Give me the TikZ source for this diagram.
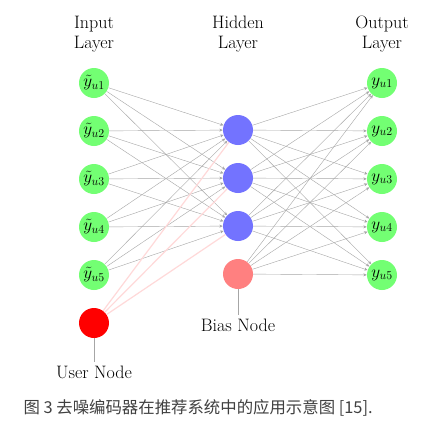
\documentclass[tikz,border=0pt]{standalone}
\usepackage{fontspec}
\newfontfamily\cjk{Noto Sans CJK SC}
\usetikzlibrary{arrows.meta}
\begin{document}
\begin{tikzpicture}[x=1pt,y=-1pt,
  neuron/.style={circle,minimum size=30pt,inner sep=0pt,draw=none},
  inneuron/.style={neuron,fill=green!55},
  hidneuron/.style={neuron,fill=blue!55},
  biasneuron/.style={neuron,fill=red!50},
  userneuron/.style={neuron,fill=red},
  nlabel/.style={font=\fontsize{17}{20}\selectfont},
  layertext/.style={align=center,font=\fontsize{18}{20}\selectfont},
  edge/.style={draw=gray!70,line width=0.4pt,-{Stealth[length=3.5pt,width=3pt]}},
  uedge/.style={draw=red!15,line width=1.2pt},
  tag/.style={draw=gray!70,line width=0.5pt}]
\useasboundingbox (0,0) rectangle (421,421);
\fill[white] (0,0) rectangle (421,421);
% layer headings
\node[layertext] (hin) at (94,34) {Input\\Layer};
\node[layertext] (hhid) at (238,34) {Hidden\\Layer};
\node[layertext] (hout) at (382,34) {Output\\Layer};
% nodes
\foreach \i/\y in {1/83,2/131,3/179,4/227,5/275}{
  \node[inneuron,nlabel] (I\i) at (94,\y) {$\tilde{y}_{u\i}$};
  \node[inneuron,nlabel] (O\i) at (382,\y) {$y_{u\i}$};
}
\node[userneuron] (U) at (94,323) {};
\foreach \j/\y in {1/130,2/178,3/226}{
  \node[hidneuron] (H\j) at (238,\y) {};
}
\node[biasneuron] (B) at (238,274) {};
% edges
\foreach \i in {1,...,5}{
  \foreach \j in {1,2,3}{
    \draw[edge] (I\i) -- (H\j);
  }
}
\foreach \j in {1,2,3}{
  \draw[uedge] (U) -- (H\j);
  \foreach \i in {1,...,5}{
    \draw[edge] (H\j) -- (O\i);
  }
}
\foreach \i in {1,...,5}{
  \draw[edge] (B) -- (O\i);
}
% tags
\node[font=\fontsize{18}{20}\selectfont] (bl) at (238,325) {Bias Node};
\node[font=\fontsize{18}{20}\selectfont] (ul) at (94,372) {User Node};
\draw[tag] (B) -- (bl);
\draw[tag] (U) -- (ul);
% caption
\node[font=\cjk\fontsize{16.4}{19}\selectfont,text=black!75,anchor=west] (cap) at (20,408) {图 3 去噪编码器在推荐系统中的应用示意图 [15].};
\end{tikzpicture}
\end{document}
